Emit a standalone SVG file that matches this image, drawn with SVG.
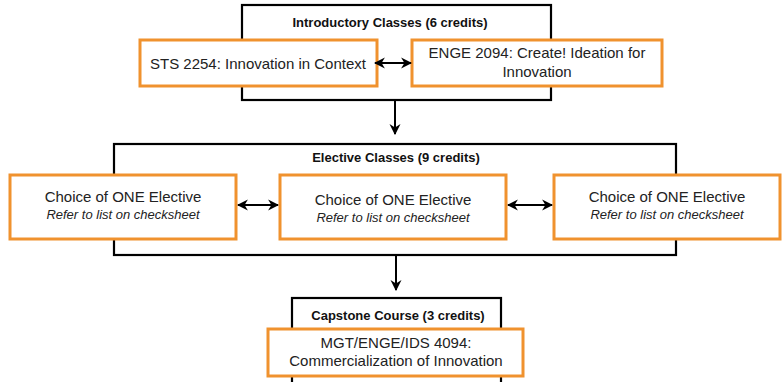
<svg xmlns="http://www.w3.org/2000/svg" width="784" height="382" viewBox="0 0 784 382">
<style>
.grp{fill:#fff;stroke:#000;stroke-width:2.2}
.box{fill:#fff;stroke:#F0922E;stroke-width:3}
.ttl{font-family:"Liberation Sans",Arial,sans-serif;font-weight:bold;font-size:13px;fill:#111;text-anchor:middle}
.t{font-family:"Liberation Sans",Arial,sans-serif;font-size:15px;fill:#222;text-anchor:middle}
.it{font-family:"Liberation Sans",Arial,sans-serif;font-style:italic;font-size:13px;fill:#222;text-anchor:middle}
.c{stroke:#000;stroke-width:2;fill:none}
</style>
<defs>
<marker id="ah" viewBox="0 0 10 10" refX="9" refY="5" markerWidth="5.5" markerHeight="6" orient="auto-start-reverse" markerUnits="strokeWidth">
<path d="M0,0 L10,5 L0,10 L3,5 Z" fill="#000"/>
</marker>
</defs>
<g id="intro">
<rect class="grp" x="242" y="5" width="309" height="95"/>
<text class="ttl" x="390" y="27">Introductory Classes (6 credits)</text>
</g>
<g id="sts">
<rect class="box" x="140" y="40" width="237" height="46"/>
<text class="t" x="258" y="69">STS 2254: Innovation in Context</text>
</g>
<g id="enge">
<rect class="box" x="412" y="40" width="250" height="46"/>
<text class="t" x="537" y="58">ENGE 2094: Create! Ideation for</text>
<text class="t" x="537" y="77">Innovation</text>
</g>
<g id="elective">
<rect class="grp" x="114" y="144" width="562" height="111"/>
<text class="ttl" x="396" y="162">Elective Classes (9 credits)</text>
</g>
<g id="el1">
<rect class="box" x="10" y="175" width="226" height="64"/>
<text class="t" x="123" y="202">Choice of ONE Elective</text>
<text class="it" x="123" y="219">Refer to list on checksheet</text>
</g>
<g id="el2">
<rect class="box" x="280" y="175" width="226" height="64"/>
<text class="t" x="393" y="205">Choice of ONE Elective</text>
<text class="it" x="393" y="222">Refer to list on checksheet</text>
</g>
<g id="el3">
<rect class="box" x="554" y="175" width="226" height="64"/>
<text class="t" x="667" y="202">Choice of ONE Elective</text>
<text class="it" x="667" y="219">Refer to list on checksheet</text>
</g>
<g id="capstone">
<rect class="grp" x="292" y="298" width="209" height="90"/>
<text class="ttl" x="398" y="320">Capstone Course (3 credits)</text>
</g>
<g id="mgt">
<rect class="box" x="268" y="329" width="255" height="47"/>
<text class="t" x="396" y="348">MGT/ENGE/IDS 4094:</text>
<text class="t" x="396" y="366">Commercialization of Innovation</text>
</g>
<g id="connectors">
<line class="c" x1="375" y1="63" x2="411" y2="63" marker-start="url(#ah)" marker-end="url(#ah)"/>
<line class="c" x1="395" y1="100" x2="395" y2="134" marker-end="url(#ah)"/>
<line class="c" x1="238" y1="205" x2="278" y2="205" marker-start="url(#ah)" marker-end="url(#ah)"/>
<line class="c" x1="508" y1="205" x2="552" y2="205" marker-start="url(#ah)" marker-end="url(#ah)"/>
<line class="c" x1="396" y1="255" x2="396" y2="290" marker-end="url(#ah)"/>
</g>
</svg>
